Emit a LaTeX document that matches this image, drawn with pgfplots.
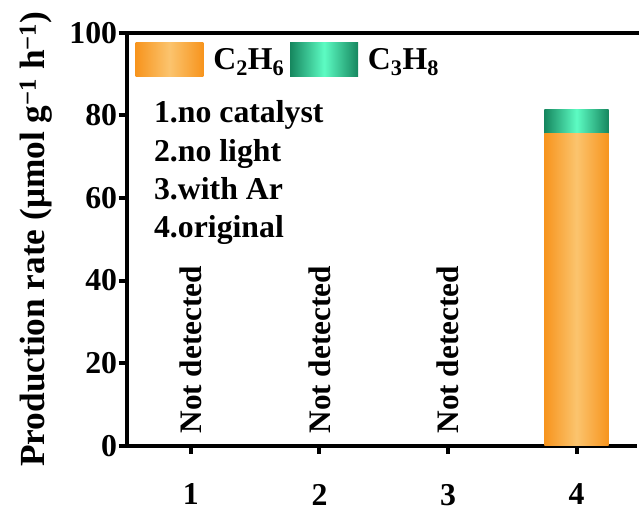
\documentclass[border=0pt]{standalone}
\usepackage{pgfplots}
\pgfplotsset{compat=1.18}
\usepackage{fontspec}
\setmainfont{Liberation Serif}
\definecolor{orDark}{HTML}{F7941D}
\definecolor{orLight}{HTML}{FBC46E}
\definecolor{grDark}{HTML}{16875F}
\definecolor{grLight}{HTML}{5DFCC3}
\newcommand{\bigf}{\fontsize{32}{38}\selectfont\bfseries}
\begin{document}
\begin{tikzpicture}
\begin{axis}[
  scale only axis, width=512bp, height=414bp,
  xmin=0.5, xmax=4.47, ymin=0, ymax=100,
  axis x line*=bottom, axis y line*=left,
  axis line style={line width=4bp, black},
  xtick={1,2,3,4}, ytick={0,20,40,60,80,100},
  tick align=outside, major tick length=8bp,
  tick style={line width=4bp, black},
  /pgf/number format/assume math mode=true,
  ticklabel style={font=\bigf},
  xticklabel shift=27bp,
  yticklabel shift=-2bp,
  ylabel={Production rate (μmol g\textsuperscript{\char"2212 1} h\textsuperscript{\char"2212 1})},
  ylabel style={font=\fontsize{35.5}{40}\selectfont\bfseries, at={(axis description cs:-0.160,0.5)}, rotate=0, anchor=base},
  ybar stacked, bar width=0.5,
  legend columns=2,
  legend style={draw=none, fill=none, at={(axis description cs:0.0176,0.976)}, anchor=north west, font=\bigf, inner sep=0pt, outer sep=0pt, /tikz/every odd column/.style={column sep=8bp}, /tikz/every even column/.style={column sep=4bp}},
]
\addplot[draw=none, left color=orDark, right color=orDark, middle color=orLight,
  legend image code/.code={\path[left color=orDark, right color=orDark, middle color=orLight] (0bp,-17bp) rectangle (68bp,17bp);}]
  coordinates {(4,75.6)};
\addlegendentry{C\textsubscript{2}H\textsubscript{6}}
\addplot[draw=none, left color=grDark, right color=grDark, middle color=grLight,
  legend image code/.code={\path[left color=grDark, right color=grDark, middle color=grLight] (0bp,-17bp) rectangle (68bp,17bp);}]
  coordinates {(4,5.8)};
\addlegendentry{C\textsubscript{3}H\textsubscript{8}}
\node[anchor=base west, font=\bigf] at (axis description cs:0.047,0.7826) {1.no catalyst};
\node[anchor=base west, font=\bigf] at (axis description cs:0.047,0.6884) {2.no light};
\node[anchor=base west, font=\bigf] at (axis description cs:0.047,0.5966) {3.with Ar};
\node[anchor=base west, font=\bigf] at (axis description cs:0.047,0.5048) {4.original};
\node[rotate=90, anchor=west, inner sep=0pt, font=\fontsize{31.5}{38}\selectfont\bfseries] at (axis cs:1,2.9) {Not detected};
\node[rotate=90, anchor=west, inner sep=0pt, font=\fontsize{31.5}{38}\selectfont\bfseries] at (axis cs:2,2.9) {Not detected};
\node[rotate=90, anchor=west, inner sep=0pt, font=\fontsize{31.5}{38}\selectfont\bfseries] at (axis cs:3,2.9) {Not detected};
\end{axis}
\draw[line width=4bp, line cap=rect] (current axis.north west) -- (current axis.north east);
\useasboundingbox (-127bp,-66bp) rectangle (512bp,447bp);
\end{tikzpicture}
\end{document}
